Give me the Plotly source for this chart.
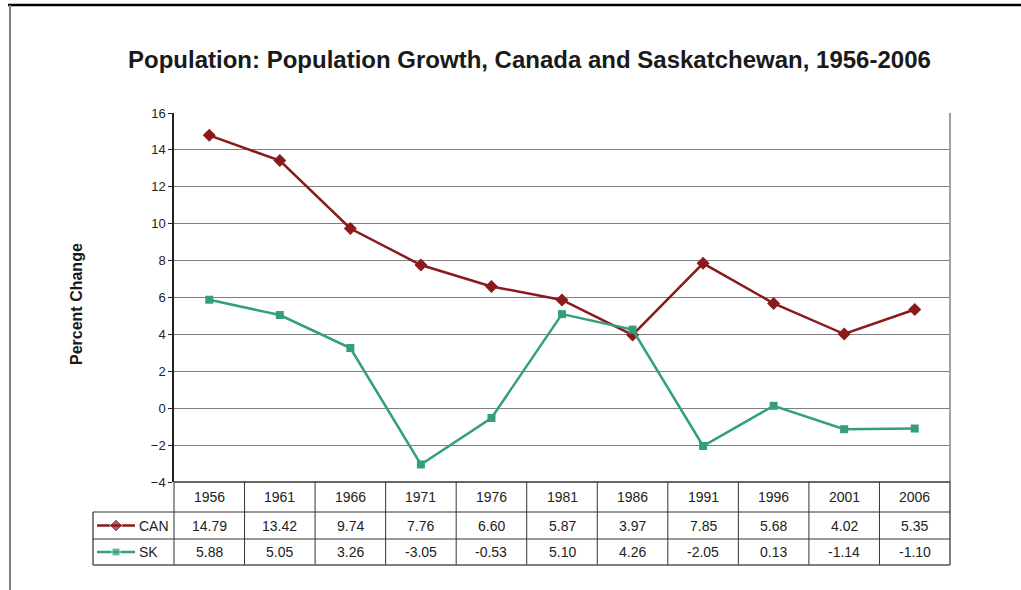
import plotly.graph_objects as go

years = ["1956", "1961", "1966", "1971", "1976", "1981", "1986", "1991", "1996", "2001", "2006"]
can = [14.79, 13.42, 9.74, 7.76, 6.60, 5.87, 3.97, 7.85, 5.68, 4.02, 5.35]
sk = [5.88, 5.05, 3.26, -3.05, -0.53, 5.10, 4.26, -2.05, 0.13, -1.14, -1.10]
series_names = ["CAN", "SK"]
y_ticks = [-4, -2, 0, 2, 4, 6, 8, 10, 12, 14, 16]

W, H = 1021, 590
CAN_COLOR = "#8a1a1c"
SK_COLOR = "#33a07a"
FONT = "Liberation Sans, Arial, sans-serif"

# pixel layout helpers (figure has zero margins, so paper == pixels)
def px(x):
    return x / W

def py(y):
    return 1 - y / H

PLOT_L, PLOT_R, PLOT_T, PLOT_B = 174, 950, 113, 482
ROW1, ROW2, ROW3 = 512, 539, 565
LEG_L = 93

fig = go.Figure()

fig.add_trace(go.Scatter(
    x=years, y=can, mode="lines+markers", name=series_names[0],
    line=dict(color=CAN_COLOR, width=2.5),
    marker=dict(symbol="diamond", size=10, color=CAN_COLOR),
    showlegend=False, xaxis="x", yaxis="y"))
fig.add_trace(go.Scatter(
    x=years, y=sk, mode="lines+markers", name=series_names[1],
    line=dict(color=SK_COLOR, width=2.5),
    marker=dict(symbol="square", size=8, color=SK_COLOR),
    showlegend=False, xaxis="x", yaxis="y"))

# legend keys drawn inside the data table's first column
for name, color, sym, size, yc in [(series_names[0], CAN_COLOR, "diamond", 10, (ROW1 + ROW2) / 2),
                                   (series_names[1], SK_COLOR, "square", 8, (ROW2 + ROW3) / 2)]:
    fig.add_trace(go.Scatter(
        x=[97, 116, 135], y=[yc, yc, yc], mode="lines+markers",
        line=dict(color=color, width=2.5),
        marker=dict(symbol=sym, size=[0, size, 0], color=color),
        showlegend=False, hoverinfo="skip", xaxis="x2", yaxis="y2"))

annotations = []
shapes = []

# title and axis title
annotations.append(dict(
    text="<b>Population: Population Growth, Canada and Saskatchewan, 1956-2006</b>",
    x=px(529), y=py(60), xref="paper", yref="paper", showarrow=False,
    font=dict(size=24, color="#1a1a1a", family=FONT), xanchor="center", yanchor="middle"))
annotations.append(dict(
    text="<b>Percent Change</b>", textangle=-90,
    x=px(76), y=py(304), xref="paper", yref="paper", showarrow=False,
    font=dict(size=16, color="#1a1a1a", family=FONT), xanchor="center", yanchor="middle"))

# data table: year header and value rows (x is the category index)
cell_font = dict(size=14, color="#222222", family=FONT)
for i, yr in enumerate(years):
    annotations.append(dict(text=yr, x=i, y=py((PLOT_B + ROW1) / 2), xref="x", yref="paper",
                            showarrow=False, font=cell_font, yanchor="middle"))
    annotations.append(dict(text=f"{can[i]:.2f}", x=i, y=py((ROW1 + ROW2) / 2), xref="x", yref="paper",
                            showarrow=False, font=cell_font, yanchor="middle"))
    annotations.append(dict(text=f"{sk[i]:.2f}", x=i, y=py((ROW2 + ROW3) / 2), xref="x", yref="paper",
                            showarrow=False, font=cell_font, yanchor="middle"))
for name, yc in [(series_names[0], (ROW1 + ROW2) / 2), (series_names[1], (ROW2 + ROW3) / 2)]:
    annotations.append(dict(text=name, x=px(137), y=py(yc), xref="paper", yref="paper",
                            showarrow=False, font=cell_font, xanchor="left", yanchor="middle"))

table_line = dict(color="#333333", width=1)
# vertical cell dividers between categories
for i in range(len(years) - 1):
    shapes.append(dict(type="line", xref="x", yref="paper", x0=i + 0.5, x1=i + 0.5,
                       y0=py(PLOT_B), y1=py(ROW3), line=table_line))
# left edge of the value columns, legend column edge, right edge
shapes.append(dict(type="line", xref="paper", yref="paper", x0=px(PLOT_L), x1=px(PLOT_L),
                   y0=py(PLOT_B), y1=py(ROW3), line=table_line))
shapes.append(dict(type="line", xref="paper", yref="paper", x0=px(LEG_L), x1=px(LEG_L),
                   y0=py(ROW1), y1=py(ROW3), line=dict(color="#555555", width=1.5)))
shapes.append(dict(type="line", xref="paper", yref="paper", x0=px(PLOT_R), x1=px(PLOT_R),
                   y0=py(PLOT_B), y1=py(ROW3), line=dict(color="#555555", width=1.5)))
# horizontal row lines
for yy in (ROW1, ROW2):
    shapes.append(dict(type="line", xref="paper", yref="paper", x0=px(LEG_L), x1=px(PLOT_R),
                       y0=py(yy), y1=py(yy), line=table_line))
shapes.append(dict(type="line", xref="paper", yref="paper", x0=px(LEG_L), x1=px(PLOT_R),
                   y0=py(ROW3), y1=py(ROW3), line=dict(color="#555555", width=1.5)))

# plot-area border (right) and x baseline
shapes.append(dict(type="line", xref="paper", yref="paper", x0=px(PLOT_R), x1=px(PLOT_R),
                   y0=py(PLOT_B), y1=py(PLOT_T), line=dict(color="#a0a0a0", width=2)))
shapes.append(dict(type="line", xref="paper", yref="paper", x0=px(PLOT_L), x1=px(PLOT_R),
                   y0=py(PLOT_B), y1=py(PLOT_B), line=dict(color="#333333", width=1.5)))

# outer frame lines
shapes.append(dict(type="line", xref="paper", yref="paper", x0=px(8), x1=1,
                   y0=py(5), y1=py(5), line=dict(color="#000000", width=2.5)))
shapes.append(dict(type="line", xref="paper", yref="paper", x0=px(10), x1=px(10),
                   y0=py(5), y1=0, line=dict(color="#808080", width=2)))

fig.update_layout(
    width=W, height=H,
    margin=dict(l=0, r=0, t=0, b=0, pad=0, autoexpand=False),
    paper_bgcolor="white", plot_bgcolor="white",
    font=dict(family=FONT, color="#222222"),
    xaxis=dict(type="category", domain=[px(PLOT_L), px(PLOT_R)], range=[-0.5, len(years) - 0.5],
               showticklabels=False, showgrid=False, zeroline=False, showline=False, ticks="",
               automargin=False),
    yaxis=dict(domain=[py(PLOT_B), py(PLOT_T)], range=[-4, 16], tickvals=y_ticks,
               showgrid=True, gridcolor="#7f7f7f", gridwidth=1, zeroline=False,
               showline=True, linecolor="#222222", linewidth=1.5,
               ticks="outside", ticklen=4, tickcolor="#222222", automargin=False,
               tickfont=dict(size=13, color="#222222", family=FONT)),
    xaxis2=dict(domain=[px(LEG_L), px(PLOT_L)], range=[LEG_L, PLOT_L], visible=False, anchor="y2"),
    yaxis2=dict(domain=[py(ROW3), py(ROW1)], range=[ROW3, ROW1], visible=False, anchor="x2"),
    annotations=annotations,
    shapes=shapes,
)

fig.write_html("out.html")
